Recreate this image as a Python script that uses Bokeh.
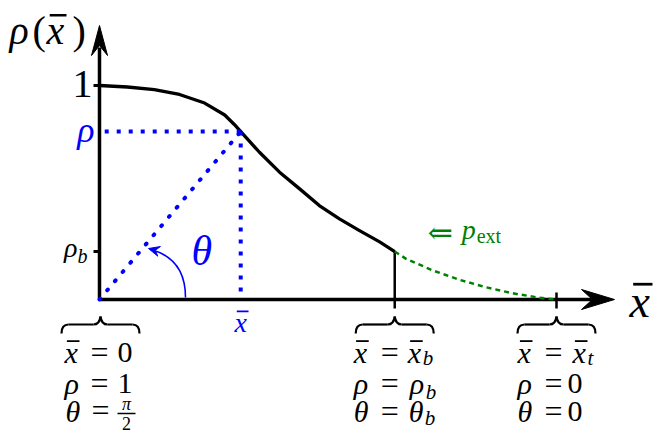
import math
from bokeh.plotting import figure
from bokeh.models import Range1d, Label
from bokeh.embed import file_html
from bokeh.resources import INLINE

# ---------------- data (x̄ normalised so x̄_t = 1, ρ normalised so ρ(0) = 1) ----------------
x_bar_star = [0.0, 0.061, 0.120, 0.175, 0.230, 0.274, 0.295, 0.317, 0.350, 0.394, 0.438,
              0.481, 0.525, 0.569, 0.613, 0.646]
rho_star = [1.0, 0.993, 0.981, 0.958, 0.918, 0.862, 0.818, 0.766, 0.688, 0.595, 0.517,
            0.439, 0.377, 0.322, 0.269, 0.224]
x_bar_ext = [0.646, 0.671, 0.729, 0.788, 0.846, 0.904, 0.963, 1.0]
rho_ext = [0.224, 0.190, 0.136, 0.092, 0.057, 0.029, 0.008, 0.0]
x_b, x_t = 0.646, 1.0
rho_b = 0.224
x_sample, rho_sample = 0.309, 0.785

group_x = [0.0, x_b, x_t]
row_vars = ["x", "ρ", "θ"]          # first entry drawn as x̄
group2_rhs = ["x", "ρ", "θ"]
group2_sub = "b"
group3_rhs = ["x", "0", "0"]
group1_rhs = ["0", "1"]

# ---------------- layout ----------------
FONT = "Liberation Serif"
BLUE = "#0000ff"
GREEN = "#008000"
SX, SY = 457.0, 214.0          # px per data unit
W, H = 658, 435
OX, OY = 99, 299               # origin position inside canvas (px)
BASE_FIX = 0.3                 # renderer draws 'alphabetic' text ~0.3em low

p = figure(width=W, height=H,
           x_range=Range1d(-OX / SX, (W - OX) / SX),
           y_range=Range1d(-(H - OY) / SY, OY / SY),
           output_backend="svg", toolbar_location=None, min_border=0,
           x_axis_location=None, y_axis_location=None,
           outline_line_color=None, background_fill_color="white",
           border_fill_color="white")
p.grid.visible = False


def X(x, dx=0.0):
    return x + dx / SX


def Y(y, dy=0.0):          # dy: screen px, downward positive
    return y - dy / SY


def txt(x, y, dx, dy, s, size, color="black", italic=True, align="left",
        baseline="alphabetic", font=FONT):
    if baseline == "alphabetic":
        dy = dy - BASE_FIX * size
    p.add_layout(Label(x=X(x, dx), y=Y(y, dy), text=s, text_font=font,
                       text_font_size=f"{size}px", text_color=color,
                       text_font_style="italic" if italic else "normal",
                       text_align=align, text_baseline=baseline))


def xbar(x, y, dx, dy, size, color="black", align="left"):
    left = dx - {"left": 0.0, "center": 0.22, "right": 0.44}[align] * size
    txt(x, y, left, dy, "x", size, color)
    yb = Y(y, dy - 0.68 * size)
    p.line([X(x, left + 0.08 * size), X(x, left + 0.50 * size)], [yb, yb],
           line_color=color, line_width=max(1.3, 0.06 * size))


def head(tx, ty, ux, uy, L, half, notch, color):
    n = math.hypot(ux, uy)
    ux, uy = ux / n, uy / n
    vx, vy = -uy, ux
    pts = [(0, 0), (-L * ux + half * vx, -L * uy + half * vy),
           (-notch * ux, -notch * uy), (-L * ux - half * vx, -L * uy - half * vy)]
    p.patch([tx + a / SX for a, b in pts], [ty + b / SY for a, b in pts],
            fill_color=color, line_color=color, line_width=1)


# ---------------- axes ----------------
p.line([0, X(x_t, 38)], [0, 0], line_color="black", line_width=3.5)
head(X(x_t, 58), 0, 1, 0, 33, 10, 22, "black")
p.line([0, 0], [0, Y(1.0, -38)], line_color="black", line_width=3.5)
head(0, Y(1.0, -60), 0, 1, 30, 8, 20, "black")

# ticks
p.segment(x0=[X(0, -6), X(0, -6)], y0=[1.0, rho_b], x1=[0, 0], y1=[1.0, rho_b],
          line_color="black", line_width=3)
p.segment(x0=[x_b, x_t], y0=[rho_b, Y(0, -7)], x1=[x_b, x_t], y1=[Y(0, 9), Y(0, 9)],
          line_color="black", line_width=2.5)

# ---------------- curves ----------------
p.line(x_bar_ext, rho_ext, line_color=GREEN, line_width=2.5, line_dash="5 4")
p.line(x_bar_star, rho_star, line_color="black", line_width=3.3, line_join="round")

# blue construction
p.line([x_sample, 0], [rho_sample, rho_sample], line_color=BLUE, line_width=4, line_dash="4 8")
p.line([x_sample, x_sample], [rho_sample, 0], line_color=BLUE, line_width=4, line_dash="4 8")
p.line([0, x_sample], [0, rho_sample], line_color=BLUE, line_width=4, line_dash="1 11",
       line_cap="round")

# theta arc
p.quadratic(x0=[X(0, 86)], y0=[Y(0, -2)], x1=[X(0, 51)], y1=[Y(0, -50)],
            cx=[X(0, 86)], cy=[Y(0, -41)], line_color=BLUE, line_width=1.6)
head(X(0, 49), Y(0, -51), -37, 10, 11, 5, 7, BLUE)

# braces
for gx, c in zip(group_x, [1, 0, 0]):
    for s in (-1, 1):
        p.quadratic(x0=[X(gx, c + s * 39)], y0=[Y(0, 34)], x1=[X(gx, c + s * 32)], y1=[Y(0, 25)],
                    cx=[X(gx, c + s * 39)], cy=[Y(0, 25)], line_color="black", line_width=2.2)
        p.line([X(gx, c + s * 32), X(gx, c + s * 7)], [Y(0, 25), Y(0, 25)],
               line_color="black", line_width=2.2)
        p.quadratic(x0=[X(gx, c + s * 7)], y0=[Y(0, 25)], x1=[X(gx, c)], y1=[Y(0, 17)],
                    cx=[X(gx, c + s * 1)], cy=[Y(0, 25)], line_color="black", line_width=2.2)

# ---------------- texts ----------------
# y-axis title rho(x̄)
txt(0, 1.0, -90, -43, "ρ", 40)
txt(0, 1.0, -67, -43, "(", 40, italic=False)
xbar(0, 1.0, -53, -43, 40)
txt(0, 1.0, -27, -43, ")", 40, italic=False)
# tick labels
txt(0, 1.0, -7, 10, "1", 40, italic=False, align="right")
txt(0, rho_b, -22, 4, "ρ", 28, align="right")
txt(0, rho_b, -22, 10, "b", 20)
txt(0, rho_sample, -5, 9, "ρ", 36, color=BLUE, align="right")
xbar(x_sample, 0, 0, 31, 28, color=BLUE, align="center")
txt(0, 0, 92, -36, "θ", 42, color=BLUE)
xbar(x_t, 0, 73, 16, 46)
# p_ext
txt(x_b, rho_b, 33, -19, "⇐", 30, color=GREEN, italic=False, baseline="middle",
    font="DejaVu Serif")
txt(x_b, rho_b, 67, -14, "p", 28, color=GREEN)
txt(x_b, rho_b, 82, -10, "ext", 20, color=GREEN, italic=False)

# bottom groups
row_dy = [62, 93, 121]
# group 1
for i in range(2):
    if row_vars[i] == "x":
        xbar(0, 0, -35, row_dy[i], 30)
    else:
        txt(0, 0, -35, row_dy[i], row_vars[i], 30)
    txt(0, 0, 0, row_dy[i], "=", 32, italic=False, align="center")
    txt(0, 0, 18, row_dy[i], group1_rhs[i], 30, italic=False)
txt(0, 0, -34, 121, "θ", 30)
txt(0, 0, 1, 120, "=", 32, italic=False, align="center")
txt(0, 0, 27, 110, "π", 18, align="center")
p.line([X(0, 18), X(0, 36)], [Y(0, 114), Y(0, 114)], line_color="black", line_width=1.3)
txt(0, 0, 27, 129, "2", 18, italic=False, align="center")
# group 2
sub_dx2 = [28, 31, 30]
sub_dy2 = [65, 99, 125]
rhs_dx2 = [13, 15, 14]
for i in range(3):
    if row_vars[i] == "x":
        xbar(x_b, 0, -41, row_dy[i], 30)
        xbar(x_b, 0, rhs_dx2[i], row_dy[i], 30)
    else:
        txt(x_b, 0, -41, row_dy[i], row_vars[i], 30)
        txt(x_b, 0, rhs_dx2[i], row_dy[i], group2_rhs[i], 30)
    txt(x_b, 0, -5, row_dy[i], "=", 32, italic=False, align="center")
    txt(x_b, 0, sub_dx2[i], sub_dy2[i], group2_sub, 21)
# group 3
for i in range(3):
    if row_vars[i] == "x":
        xbar(x_t, 0, -39, row_dy[i], 30)
    else:
        txt(x_t, 0, -39, row_dy[i], row_vars[i], 30)
    txt(x_t, 0, -3, row_dy[i], "=", 32, italic=False, align="center")
    if i == 0:
        xbar(x_t, 0, 16, row_dy[i], 30)
        txt(x_t, 0, 31, 65, "t", 21)
    else:
        txt(x_t, 0, 11, row_dy[i], group3_rhs[i], 30, italic=False)

open("out.html", "w").write(file_html(p, INLINE))
